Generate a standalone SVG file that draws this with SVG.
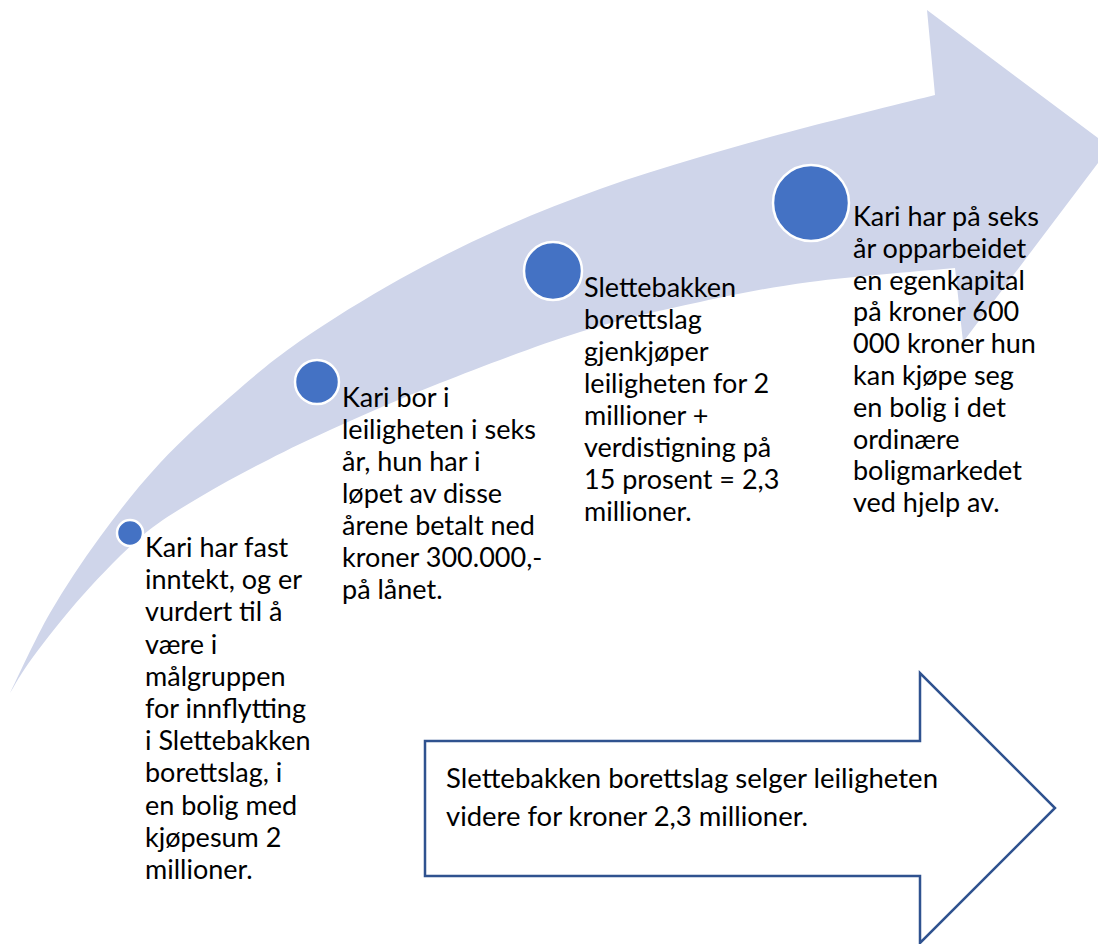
<svg xmlns="http://www.w3.org/2000/svg" width="1098" height="944" viewBox="0 0 1098 944">
<style>
.band{fill:#CFD5EA;stroke:none}
.dot{fill:#4472C4;stroke:#FFFFFF;stroke-width:2.5}
.t{font-family:Lato,"Liberation Sans",sans-serif;font-size:27px;fill:#000000}
.box{fill:#FFFFFF;stroke:#2F528F;stroke-width:2.5;stroke-linejoin:miter}
</style>
<rect width="1098" height="944" fill="#FFFFFF"/>
<g id="curved-arrow">
<path class="band" d="M10,693 C16.7,679.7 35,639 50,613 C65,587 81.7,562 100,537 C118.3,512 138.3,486.3 160,463 C181.7,439.7 206.7,417.3 230,397 C253.3,376.7 271.7,360.7 300,341 C328.3,321.3 366.7,297.7 400,279 C433.3,260.3 466.7,244 500,229 C533.3,214 566.7,201 600,189 C633.3,177 666.7,167 700,157 C733.3,147 760.8,139.3 800,129 C839.2,118.7 912.5,100.7 935,95 L927,10 L1110,147 L963,342 L955,268 C930.8,270.3 852.5,276.3 810,282 C767.5,287.7 738.3,293.7 700,302 C661.7,310.3 623.3,318.5 580,332 C536.7,345.5 481.7,366.7 440,383 C398.3,399.3 360,416.5 330,430 C300,443.5 281.7,452.8 260,464 C238.3,475.2 219.5,485.2 200,497 C180.5,508.8 162.5,518.7 143,535 C123.5,551.3 101.3,574.7 83,595 C64.7,615.3 45.2,640.7 33,657 C20.8,673.3 13.8,687 10,693 Z"/>
</g>
<g id="step1">
<circle class="dot" cx="130" cy="533" r="13"/>
<text class="t"><tspan x="145" y="557">Kari har fast</tspan><tspan x="145" y="589.2">inntekt, og er</tspan><tspan x="145" y="621.4">vurdert til å</tspan><tspan x="145" y="653.6">være i</tspan><tspan x="145" y="685.8">målgruppen</tspan><tspan x="145" y="718">for innflytting</tspan><tspan x="145" y="750.2">i Slettebakken</tspan><tspan x="145" y="782.4">borettslag, i</tspan><tspan x="145" y="814.6">en bolig med</tspan><tspan x="145" y="846.8">kjøpesum 2</tspan><tspan x="145" y="879">millioner.</tspan></text>
</g>
<g id="step2">
<circle class="dot" cx="317" cy="382" r="22"/>
<text class="t"><tspan x="342" y="407">Kari bor i</tspan><tspan x="342" y="439">leiligheten i seks</tspan><tspan x="342" y="471">år, hun har i</tspan><tspan x="342" y="503">løpet av disse</tspan><tspan x="342" y="535">årene betalt ned</tspan><tspan x="342" y="567">kroner 300.000,-</tspan><tspan x="342" y="599">på lånet.</tspan></text>
</g>
<g id="step3">
<circle class="dot" cx="553" cy="271" r="29"/>
<text class="t"><tspan x="584" y="297">Slettebakken</tspan><tspan x="584" y="329">borettslag</tspan><tspan x="584" y="361">gjenkjøper</tspan><tspan x="584" y="393">leiligheten for 2</tspan><tspan x="584" y="425">millioner +</tspan><tspan x="584" y="457">verdistigning på</tspan><tspan x="584" y="489">15 prosent = 2,3</tspan><tspan x="584" y="521">millioner.</tspan></text>
</g>
<g id="step4">
<circle class="dot" cx="811" cy="203" r="38"/>
<text class="t"><tspan x="853" y="226">Kari har på seks</tspan><tspan x="853" y="257.8">år opparbeidet</tspan><tspan x="853" y="289.6">en egenkapital</tspan><tspan x="853" y="321.4">på kroner 600</tspan><tspan x="853" y="353.2">000 kroner hun</tspan><tspan x="853" y="385">kan kjøpe seg</tspan><tspan x="853" y="416.8">en bolig i det</tspan><tspan x="853" y="448.6">ordinære</tspan><tspan x="853" y="480.4">boligmarkedet</tspan><tspan x="853" y="512.2">ved hjelp av.</tspan></text>
</g>
<g id="sale-arrow">
<path class="box" d="M425,741 L920,741 L920,673 L1055,808 L920,943 L920,876 L425,876 Z"/>
<text class="t"><tspan x="446" y="788" textLength="492" lengthAdjust="spacingAndGlyphs">Slettebakken borettslag selger leiligheten</tspan><tspan x="446" y="826" textLength="362" lengthAdjust="spacingAndGlyphs">videre for kroner 2,3 millioner.</tspan></text>
</g>
</svg>
